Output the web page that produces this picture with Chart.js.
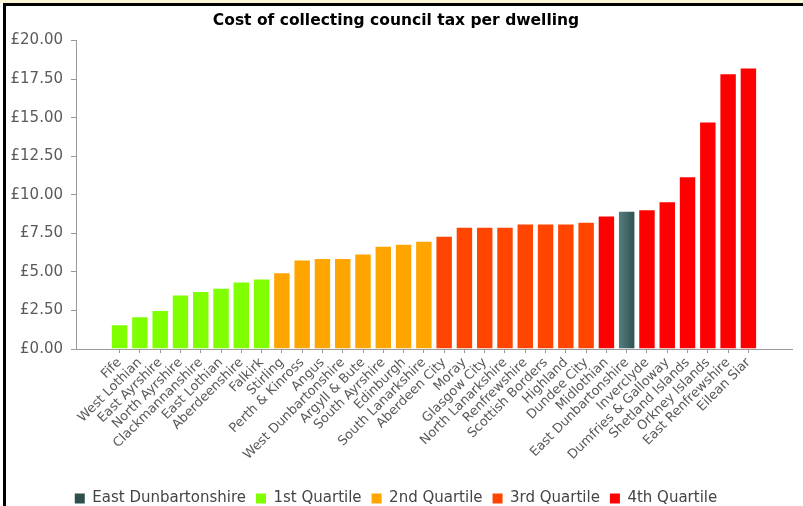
<!DOCTYPE html>
<html>
<head>
<meta charset="utf-8">
<title>Cost of collecting council tax per dwelling</title>
<script src="https://cdn.jsdelivr.net/npm/chart.js@4/dist/chart.umd.min.js"></script>
<style>
  html, body { margin: 0; padding: 0; background: #fff; overflow: hidden; }
  #wrap { position: relative; width: 803px; height: 506px; overflow: hidden; background: #fff; }
  #chart { position: absolute; left: 0; top: 0; }
  /* window frame round the chart */
  .frame-top { position: absolute; left: 0; top: 0; width: 803px; height: 3px; background: #faf5d4; }
  .frame-line { position: absolute; left: 3px; top: 3px; width: 800px; height: 3px; background: #000; }
  .frame-left { position: absolute; left: 3px; top: 3px; width: 3px; height: 503px; background: #000; }
</style>
</head>
<body>
<div id="wrap">
  <canvas id="chart" width="803" height="516"></canvas>
  <div class="frame-top"></div>
  <div class="frame-line"></div>
  <div class="frame-left"></div>
</div>
<script>
// Councils, cheapest first
const councils = [
  'Fife', 'West Lothian', 'East Ayrshire', 'North Ayrshire', 'Clackmannanshire',
  'East Lothian', 'Aberdeenshire', 'Falkirk', 'Stirling', 'Perth & Kinross',
  'Angus', 'West Dunbartonshire', 'Argyll & Bute', 'South Ayrshire', 'Edinburgh',
  'South Lanarkshire', 'Aberdeen City', 'Moray', 'Glasgow City', 'North Lanarkshire',
  'Renfrewshire', 'Scottish Borders', 'Highland', 'Dundee City', 'Midlothian',
  'East Dunbartonshire', 'Inverclyde', 'Dumfries & Galloway', 'Shetland Islands',
  'Orkney Islands', 'East Renfrewshire', 'Eilean Siar'
];
// cost per dwelling (£)
const costs = [
  1.61, 2.13, 2.53, 3.54, 3.76, 3.97, 4.38, 4.57, 4.98, 5.80,
  5.90, 5.90, 6.20, 6.70, 6.83, 7.02, 7.35, 7.93, 7.93, 7.93,
  8.14, 8.14, 8.14, 8.25, 8.65, 8.96, 9.06, 9.58, 11.21, 14.75,
  17.89, 18.25
];
const quartiles = [
  1, 1, 1, 1, 1, 1, 1, 1,
  2, 2, 2, 2, 2, 2, 2, 2,
  3, 3, 3, 3, 3, 3, 3, 3,
  4, 4, 4, 4, 4, 4, 4, 4
];
const highlighted = 'East Dunbartonshire';
const legendNames = ['East Dunbartonshire', '1st Quartile', '2nd Quartile', '3rd Quartile', '4th Quartile'];
const yTicks = [0, 2.5, 5, 7.5, 10, 12.5, 15, 17.5, 20];

// index 0 is the highlighted council, 1-4 the quartiles
const colours = ['#2f4f4f', '#7fff00', '#ffa500', '#ff4500', '#ff0000'];

Chart.defaults.font.family = '"DejaVu Sans", Verdana, sans-serif';
Chart.defaults.font.size = 13;

function barColour(ctx) {
  const i = ctx.dataIndex;
  if (councils[i] !== highlighted) return colours[quartiles[i]];
  const xScale = ctx.chart.scales.x;
  if (!xScale || !ctx.chart.chartArea) return colours[0];
  // the highlighted bar is shaded light to dark, left to right
  const cx = xScale.getPixelForValue(i);
  const g = ctx.chart.ctx.createLinearGradient(cx - 9, 0, cx + 9, 0);
  g.addColorStop(0, '#55817f');
  g.addColorStop(1, '#2f4f4f');
  return g;
}

window.onload = function () {
  const ctx = document.getElementById('chart').getContext('2d');

  new Chart(ctx, {
    type: 'bar',
    data: {
      datasets: [{
        data: costs.map((v, i) => ({ x: i, y: v })),
        backgroundColor: barColour,
        borderColor: 'rgba(255, 255, 255, 0.35)',
        borderWidth: 1,
        barPercentage: 0.86,
        categoryPercentage: 1
      }]
    },
    options: {
      responsive: false,
      animation: false,
      layout: { padding: { left: 0, right: 11, top: 0, bottom: 0 } },
      plugins: {
        title: {
          display: true,
          text: 'Cost of collecting council tax per dwelling',
          color: '#000',
          font: { size: 15.5, weight: 'bold' },
          padding: { top: 12, bottom: 10 }
        },
        legend: {
          position: 'bottom',
          onClick: null,
          labels: {
            boxWidth: 10,
            boxHeight: 10,
            padding: 10,
            color: '#444',
            font: { size: 15 },
            generateLabels: () => legendNames.map((text, i) => ({
              text: text,
              fillStyle: colours[i],
              strokeStyle: colours[i],
              lineWidth: 0,
              hidden: false,
              fontColor: '#444'
            }))
          }
        },
        tooltip: { enabled: false }
      },
      scales: {
        x: {
          type: 'linear',
          offset: false,
          min: -2.15,
          max: councils.length - 1 + 2.15,
          afterBuildTicks: s => { s.ticks = councils.map((_, i) => ({ value: i })); },
          afterFit: s => { s.height = 132; },
          grid: { offset: false, drawOnChartArea: false, drawTicks: true, tickLength: 4, color: '#999' },
          border: { color: '#999' },
          ticks: {
            autoSkip: false,
            minRotation: 45,
            maxRotation: 45,
            padding: 2,
            color: '#5a5a5a',
            callback: v => councils[v]
          }
        },
        y: {
          min: 0,
          max: 20,
          afterBuildTicks: s => { s.ticks = yTicks.map(v => ({ value: v })); },
          afterFit: s => { s.width = 76; },
          grid: { drawOnChartArea: false, drawTicks: true, tickLength: 5, color: '#999' },
          border: { color: '#999' },
          ticks: {
            padding: 8,
            color: '#5a5a5a',
            font: { size: 15 },
            callback: v => '£' + v.toFixed(2)
          }
        }
      }
    }
  });
};
</script>
</body>
</html>
